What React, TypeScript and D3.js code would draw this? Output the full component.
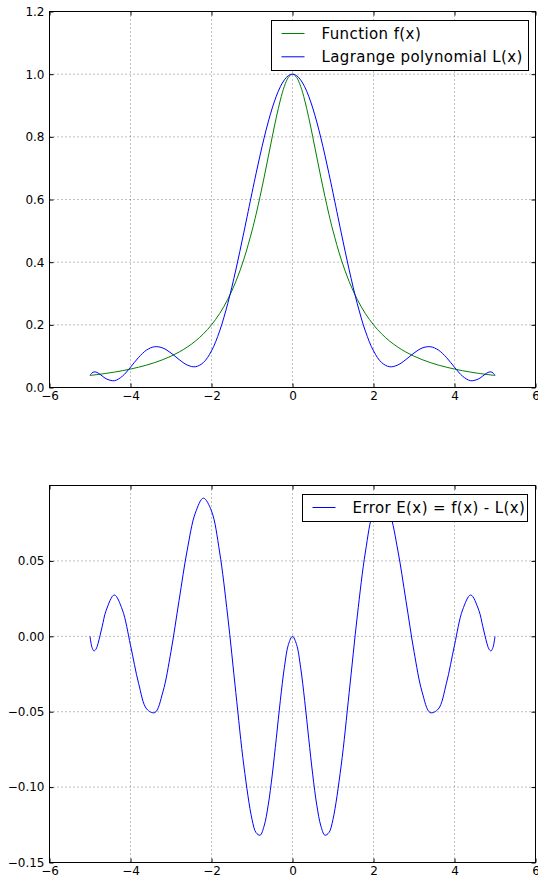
import React, { useEffect, useRef } from 'react';
import * as d3 from 'd3';

// sample positions along x (denser near the ends)
const xValues = [
  -5, -4.95, -4.9, -4.85, -4.8, -4.7, -4.6, -4.4, -4.2, -4, -3.8, -3.6, -3.4, -3.2, -3, -2.8, -2.6,
  -2.4, -2.2, -2, -1.8, -1.6, -1.4, -1.2, -1, -0.9, -0.8, -0.7, -0.6, -0.5, -0.4, -0.3, -0.2, -0.1,
  0, 0.1, 0.2, 0.3, 0.4, 0.5, 0.6, 0.7, 0.8, 0.9, 1, 1.2, 1.4, 1.6, 1.8, 2, 2.2, 2.4, 2.6, 2.8, 3,
  3.2, 3.4, 3.6, 3.8, 4, 4.2, 4.4, 4.6, 4.7, 4.8, 4.85, 4.9, 4.95, 5
];

// Function f(x)
const fValues = [
  0.0385, 0.0392, 0.04, 0.0408, 0.0416, 0.0433, 0.0451, 0.0491, 0.0536, 0.0588, 0.0648, 0.0716,
  0.0796, 0.089, 0.1, 0.1131, 0.1289, 0.1479, 0.1712, 0.2, 0.2358, 0.2809, 0.3378, 0.4098, 0.5,
  0.5525, 0.6098, 0.6711, 0.7353, 0.8, 0.8621, 0.9174, 0.9615, 0.9901,
  1,
  0.9901, 0.9615, 0.9174, 0.8621, 0.8, 0.7353, 0.6711, 0.6098, 0.5525, 0.5, 0.4098, 0.3378,
  0.2809, 0.2358, 0.2, 0.1712, 0.1479, 0.1289, 0.1131, 0.1, 0.089, 0.0796, 0.0716, 0.0648, 0.0588,
  0.0536, 0.0491, 0.0451, 0.0433, 0.0416, 0.0408, 0.04, 0.0392, 0.0385
];

// Lagrange polynomial L(x)
const lagrangeValues = [
  0.0385, 0.0466, 0.0497, 0.0492, 0.0462, 0.0369, 0.0278, 0.0217, 0.0361, 0.0647, 0.096, 0.1198,
  0.1302, 0.1259, 0.11, 0.0892, 0.0718, 0.0662, 0.0796, 0.1169, 0.1799, 0.2674, 0.375, 0.4959,
  0.6213, 0.6827, 0.7417, 0.7968, 0.8473, 0.8919, 0.9297, 0.9599, 0.982, 0.9955,
  1,
  0.9955, 0.982, 0.9599, 0.9297, 0.8919, 0.8473, 0.7968, 0.7417, 0.6827, 0.6213, 0.4959, 0.375,
  0.2674, 0.1799, 0.1169, 0.0796, 0.0662, 0.0718, 0.0892, 0.11, 0.1259, 0.1302, 0.1198, 0.096,
  0.0647, 0.0361, 0.0217, 0.0278, 0.0369, 0.0462, 0.0492, 0.0497, 0.0466, 0.0385
];

// Error E(x) = f(x) - L(x)
const errorValues = [
  0, -0.0074, -0.0097, -0.0084, -0.0046, 0.0064, 0.0173, 0.0274, 0.0175, -0.0059, -0.0312,
  -0.0482, -0.0506, -0.0369, -0.01, 0.0239, 0.0571, 0.0817, 0.0916, 0.0831, 0.0559, 0.0135,
  -0.0372, -0.0861, -0.1213, -0.1302, -0.1319, -0.1257, -0.112, -0.0919, -0.0676, -0.0425,
  -0.0205, -0.0054,
  0,
  -0.0054, -0.0205, -0.0425, -0.0676, -0.0919, -0.112, -0.1257, -0.1319, -0.1302, -0.1213,
  -0.0861, -0.0372, 0.0135, 0.0559, 0.0831, 0.0916, 0.0817, 0.0571, 0.0239, -0.01, -0.0369,
  -0.0506, -0.0482, -0.0312, -0.0059, 0.0175, 0.0274, 0.0173, 0.0064, -0.0046, -0.0084, -0.0097,
  -0.0074, 0
];

const xTicks = [-6, -4, -2, 0, 2, 4, 6];
const topYTicks = [0, 0.2, 0.4, 0.6, 0.8, 1.0, 1.2];
const bottomYTicks = [-0.15, -0.1, -0.05, 0, 0.05];

const FONT = '"DejaVu Sans", sans-serif';
const GREEN = '#008000';
const BLUE = '#0000ff';

const App = () => {
  const svgRef = useRef<SVGSVGElement>(null);

  useEffect(() => {
    const svg = d3.select(svgRef.current);
    svg.selectAll('*').remove();

    const left = 49.5;
    const right = 535.5;
    const x = d3.scaleLinear().domain([-6, 6]).range([left, right]);

    const styleAxis = (sel: any) => {
      sel.select('.domain').remove();
      sel.attr('font-family', FONT).attr('font-size', 12);
      sel.selectAll('line').attr('stroke', '#000');
      sel.selectAll('text').attr('fill', '#000');
    };

    const drawPanel = (top: number, bottom: number, yDomain: number[], yTicks: number[], yFormat: string) => {
      const y = d3.scaleLinear().domain(yDomain).range([bottom, top]);
      const g = svg.append('g');

      // dotted grid
      g.append('g')
        .selectAll('line')
        .data(xTicks)
        .enter()
        .append('line')
        .attr('x1', d => x(d)).attr('x2', d => x(d))
        .attr('y1', top).attr('y2', bottom)
        .attr('stroke', '#000').attr('stroke-width', 0.5).attr('stroke-dasharray', '1,3');
      g.append('g')
        .selectAll('line')
        .data(yTicks)
        .enter()
        .append('line')
        .attr('x1', left).attr('x2', right)
        .attr('y1', d => y(d)).attr('y2', d => y(d))
        .attr('stroke', '#000').attr('stroke-width', 0.5).attr('stroke-dasharray', '1,3');

      // axes with inward ticks on all four sides
      g.append('g').attr('transform', `translate(0,${bottom})`)
        .call(d3.axisBottom(x).tickValues(xTicks).tickSize(-4).tickPadding(4).tickFormat(d3.format('d')))
        .call(styleAxis);
      g.append('g').attr('transform', `translate(0,${top})`)
        .call(d3.axisTop(x).tickValues(xTicks).tickSize(-4).tickFormat(() => ''))
        .call(styleAxis);
      g.append('g').attr('transform', `translate(${left},0)`)
        .call(d3.axisLeft(y).tickValues(yTicks).tickSize(-4).tickPadding(5).tickFormat(d3.format(yFormat)))
        .call(styleAxis);
      g.append('g').attr('transform', `translate(${right},0)`)
        .call(d3.axisRight(y).tickValues(yTicks).tickSize(-4).tickFormat(() => ''))
        .call(styleAxis);

      g.append('rect')
        .attr('x', left).attr('y', top)
        .attr('width', right - left).attr('height', bottom - top)
        .attr('fill', 'none').attr('stroke', '#000').attr('stroke-width', 1);

      return { g, y };
    };

    const drawLine = (g: any, y: any, values: number[], color: string) => {
      const line = d3.line<number>()
        .x((d, i) => x(xValues[i]))
        .y(d => y(d))
        .curve(d3.curveCatmullRom.alpha(0.5));
      g.append('path')
        .datum(values)
        .attr('d', line)
        .attr('fill', 'none')
        .attr('stroke', color)
        .attr('stroke-width', 1);
    };

    const drawLegend = (bx: number, by: number, w: number, h: number, rows: { label: string, color: string }[]) => {
      const lg = svg.append('g');
      lg.append('rect')
        .attr('x', bx).attr('y', by).attr('width', w).attr('height', h)
        .attr('fill', '#fff').attr('stroke', '#000').attr('stroke-width', 1);
      rows.forEach((r, i) => {
        const cy = by + 13 + i * 23.3;
        lg.append('line')
          .attr('x1', bx + 10).attr('x2', bx + 33)
          .attr('y1', cy).attr('y2', cy)
          .attr('stroke', r.color).attr('stroke-width', 1);
        lg.append('text')
          .attr('x', bx + 50).attr('y', cy).attr('dy', '0.36em')
          .attr('font-family', FONT).attr('font-size', 15).attr('letter-spacing', 0.4)
          .attr('fill', '#000')
          .text(r.label);
      });
    };

    // top panel
    const topPanel = drawPanel(11.5, 387.5, [0, 1.2], topYTicks, '.1f');
    drawLine(topPanel.g, topPanel.y, fValues, GREEN);
    drawLine(topPanel.g, topPanel.y, lagrangeValues, BLUE);
    drawLegend(271.5, 20.5, 257, 50, [
      { label: 'Function f(x)', color: GREEN },
      { label: 'Lagrange polynomial L(x)', color: BLUE }
    ]);

    // bottom panel
    const bottomPanel = drawPanel(485.5, 862.5, [-0.15, 0.1], bottomYTicks, '.2f');
    drawLine(bottomPanel.g, bottomPanel.y, errorValues, BLUE);
    drawLegend(302.5, 494.5, 225, 27, [
      { label: 'Error E(x) = f(x) - L(x)', color: BLUE }
    ]);
  }, []);

  return (
    <div style={{ position: 'absolute', left: 0, top: 0, width: 538, height: 880, background: '#fff' }}>
      <svg ref={svgRef} width={538} height={880} style={{ display: 'block' }}></svg>
    </div>
  );
};

export default App;
